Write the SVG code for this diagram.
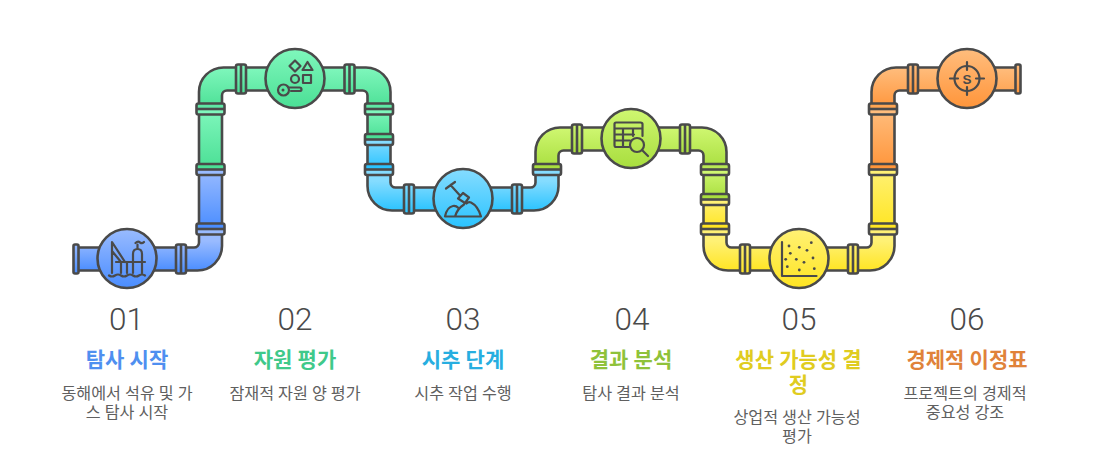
<svg xmlns="http://www.w3.org/2000/svg" width="1094" height="473" viewBox="0 0 1094 473">
<style>
.p{stroke:#4a4a4a;stroke-width:2.6;stroke-linejoin:round;stroke-linecap:round}
.f{stroke:#4a4a4a;stroke-width:2.6}
.l{fill:none;stroke:#4a4a4a;stroke-width:2.2;stroke-linecap:round;stroke-linejoin:round}
.d{fill:#4a4a4a}
.n{font:300 31.5px Roboto,"Liberation Sans",sans-serif;fill:#4a4a4a;text-anchor:middle}
.t{font:700 21px Roboto,"Noto Sans CJK KR",sans-serif;text-anchor:middle}
.b{font:400 16.2px Roboto,"Noto Sans CJK KR",sans-serif;fill:#606060;text-anchor:middle}
</style>
<defs>
<linearGradient id="bl" x2="0" y2="1"><stop offset="0" stop-color="#99bbff"/><stop offset="1" stop-color="#4a8dff"/></linearGradient>
<linearGradient id="gr" x2="0" y2="1"><stop offset="0" stop-color="#7ff7bc"/><stop offset="1" stop-color="#4bdf95"/></linearGradient>
<linearGradient id="cy" x2="0" y2="1"><stop offset="0" stop-color="#85dcff"/><stop offset="1" stop-color="#2ac3ff"/></linearGradient>
<linearGradient id="li" x2="0" y2="1"><stop offset="0" stop-color="#cff771"/><stop offset="1" stop-color="#a8de3e"/></linearGradient>
<linearGradient id="ye" x2="0" y2="1"><stop offset="0" stop-color="#fff175"/><stop offset="1" stop-color="#ffe522"/></linearGradient>
<linearGradient id="or" x2="0" y2="1"><stop offset="0" stop-color="#ffbd7d"/><stop offset="1" stop-color="#ff953a"/></linearGradient>
<linearGradient id="blE" gradientUnits="userSpaceOnUse" x1="0" y1="241" x2="0" y2="271"><stop offset="0" stop-color="#99bbff"/><stop offset="1" stop-color="#4a8dff"/></linearGradient>
<linearGradient id="cyE" gradientUnits="userSpaceOnUse" x1="0" y1="181" x2="0" y2="211"><stop offset="0" stop-color="#85dcff"/><stop offset="1" stop-color="#2ac3ff"/></linearGradient>
<linearGradient id="yeE" gradientUnits="userSpaceOnUse" x1="0" y1="241" x2="0" y2="271"><stop offset="0" stop-color="#fff175"/><stop offset="1" stop-color="#ffe522"/></linearGradient>
<linearGradient id="fBB" x2="0" y2="1"><stop offset=".5" stop-color="#4a8dff"/><stop offset=".5" stop-color="#99bbff"/></linearGradient>
<linearGradient id="fGB" x2="0" y2="1"><stop offset=".5" stop-color="#4bdf95"/><stop offset=".5" stop-color="#99bbff"/></linearGradient>
<linearGradient id="fGG" x2="0" y2="1"><stop offset=".5" stop-color="#5fe8a5"/><stop offset=".5" stop-color="#7ff7bc"/></linearGradient>
<linearGradient id="fGC" x2="0" y2="1"><stop offset=".5" stop-color="#4bdf95"/><stop offset=".5" stop-color="#85dcff"/></linearGradient>
<linearGradient id="fCC" x2="0" y2="1"><stop offset=".5" stop-color="#2ac3ff"/><stop offset=".5" stop-color="#85dcff"/></linearGradient>
<linearGradient id="fLC" x2="0" y2="1"><stop offset=".5" stop-color="#a8de3e"/><stop offset=".5" stop-color="#85dcff"/></linearGradient>
<linearGradient id="fLL" x2="0" y2="1"><stop offset=".5" stop-color="#b8e854"/><stop offset=".5" stop-color="#cff771"/></linearGradient>
<linearGradient id="fLY" x2="0" y2="1"><stop offset=".5" stop-color="#a8de3e"/><stop offset=".5" stop-color="#fff175"/></linearGradient>
<linearGradient id="fYY" x2="0" y2="1"><stop offset=".5" stop-color="#ffe522"/><stop offset=".5" stop-color="#fff175"/></linearGradient>
<linearGradient id="fOY" x2="0" y2="1"><stop offset=".5" stop-color="#ff953a"/><stop offset=".5" stop-color="#fff175"/></linearGradient>
<linearGradient id="fOO" x2="0" y2="1"><stop offset=".5" stop-color="#ffa653"/><stop offset=".5" stop-color="#ffbd7d"/></linearGradient>
<g id="vf"><rect class="f" x="-14" y="-5.500" width="28" height="11" rx="2" fill="inherit"/><line class="f" x1="-14" x2="14" y1="0" y2="0"/></g>
<g id="hf"><rect class="f" x="-5" y="-14.500" width="10" height="29" rx="2" fill="inherit"/><line class="f" x1="0" x2="0" y1="-14.500" y2="14.500"/></g>
</defs>
<g id="connectors">
<path class="p" fill="url(#blE)" d="M76,247.500H194A5,5 0 0 0 199,242.500V229H222V246A24.500,24.500 0 0 1 197.500,270.500H76Z"/>
<rect class="p" fill="url(#bl)" x="199" y="169" width="23" height="60"/>
<rect class="p" fill="url(#gr)" x="199" y="109" width="23" height="60"/>
<path class="p" fill="url(#gr)" d="M199,109V92A24.500,24.500 0 0 1 223.500,67.500H366A24.500,24.500 0 0 1 390.500,92V109H367.500V95.500A5,5 0 0 0 362.500,90.500H227A5,5 0 0 0 222,95.500V109Z"/>
<rect class="p" fill="url(#gr)" x="367.500" y="109" width="23" height="30"/>
<rect class="p" fill="url(#cy)" x="367.500" y="139" width="23" height="30"/>
<path class="p" fill="url(#cyE)" d="M367.500,169V186A24.500,24.500 0 0 0 392,210.500H534A24.500,24.500 0 0 0 558.500,186V169H535.500V182.500A5,5 0 0 1 530.500,187.500H395.500A5,5 0 0 1 390.500,182.500V169Z"/>
<path class="p" fill="url(#li)" d="M535.500,169V152A24.500,24.500 0 0 1 560,127.500H702A24.500,24.500 0 0 1 726.500,152V169H703.500V155.500A5,5 0 0 0 698.500,150.500H563.500A5,5 0 0 0 558.500,155.500V169Z"/>
<rect class="p" fill="url(#li)" x="703.500" y="169" width="23" height="30"/>
<rect class="p" fill="url(#ye)" x="703.500" y="199" width="23" height="30"/>
<path class="p" fill="url(#yeE)" d="M703.500,229V246A24.500,24.500 0 0 0 728,270.500H870A24.500,24.500 0 0 0 894.500,246V229H871.500V242.500A5,5 0 0 1 866.500,247.500H731.500A5,5 0 0 1 726.500,242.500V229Z"/>
<rect class="p" fill="url(#ye)" x="871.500" y="169" width="23" height="60"/>
<rect class="p" fill="url(#or)" x="871.500" y="109" width="23" height="60"/>
<path class="p" fill="url(#or)" d="M871.500,109V92A24.500,24.500 0 0 1 896,67.500H1018V90.500H899.500A5,5 0 0 0 894.500,95.500V109Z"/>
<use href="#vf" x="210.500" y="229" fill="url(#fBB)"/>
<use href="#vf" x="210.500" y="169.500" fill="url(#fGB)"/>
<use href="#vf" x="210.500" y="109" fill="url(#fGG)"/>
<use href="#vf" x="379" y="109" fill="url(#fGG)"/>
<use href="#vf" x="379" y="139.500" fill="url(#fGC)"/>
<use href="#vf" x="379" y="169.500" fill="url(#fCC)"/>
<use href="#vf" x="547" y="169.500" fill="url(#fLC)"/>
<use href="#vf" x="715" y="169.500" fill="url(#fLL)"/>
<use href="#vf" x="715" y="199.500" fill="url(#fLY)"/>
<use href="#vf" x="715" y="229" fill="url(#fYY)"/>
<use href="#vf" x="883" y="229" fill="url(#fYY)"/>
<use href="#vf" x="883" y="169.500" fill="url(#fOY)"/>
<use href="#vf" x="883" y="109" fill="url(#fOO)"/>
<use href="#hf" x="181" y="259" fill="url(#bl)"/>
<use href="#hf" x="241" y="79" fill="url(#gr)"/>
<use href="#hf" x="349.500" y="79" fill="url(#gr)"/>
<use href="#hf" x="409" y="199" fill="url(#cy)"/>
<use href="#hf" x="517" y="199" fill="url(#cy)"/>
<use href="#hf" x="577" y="139" fill="url(#li)"/>
<use href="#hf" x="685" y="139" fill="url(#li)"/>
<use href="#hf" x="745" y="259" fill="url(#ye)"/>
<use href="#hf" x="853" y="259" fill="url(#ye)"/>
<use href="#hf" x="913" y="79" fill="url(#or)"/>
<rect class="f" x="73.500" y="244.500" width="5" height="29" rx="1.500" fill="url(#bl)"/>
<rect class="f" x="1015.500" y="64.500" width="5" height="29" rx="1.500" fill="url(#or)"/>
</g>
<g id="node-1">
<circle class="f" cx="127" cy="258.500" r="29.500" fill="url(#bl)"/>
<path class="l" d="M112,273V242L125,262M112,251L121,262M116,262H145M121,262V273M127,262V273M133,273V254Q133,249 137.500,249Q142,249 142,254V273M137.500,249V244.500M109,275.500Q112,277.500 115,275.500Q118,273.500 121,275.500Q124,277.500 127,275.500Q130,273.500 133,275.500Q136,277.500 139,275.500Q142,273.500 145,275.500M135.500,243Q138,240.500 140,242.500Q142,244 144,242"/>
<text class="n" x="126.500" y="330">01</text>
<text class="t" fill="#4f8ff0" x="127" y="367">탐사 시작</text>
<text class="b"><tspan x="127" y="399">동해에서 석유 및 가</tspan><tspan x="127" y="418">스 탐사 시작</tspan></text>
</g>
<g id="node-2">
<circle class="f" cx="295" cy="78.500" r="29.500" fill="url(#gr)"/>
<path class="l" d="M295,60.500L300.500,66L295,71.500L289.500,66ZM307.500,62L312.500,70H302.500ZM303,75H311V83H303ZM288.500,87.500H299.500Q301.500,87.500 301.500,89.500Q301.500,91 299.500,91H291"/>
<circle class="l" cx="295" cy="79" r="4"/>
<circle class="l" cx="283.500" cy="90" r="5.500"/>
<circle class="d" cx="283" cy="90" r="1.500"/>
<text class="n" x="295" y="330">02</text>
<text class="t" fill="#3fc98a" x="295" y="367">자원 평가</text>
<text class="b" x="295" y="399">잠재적 자원 양 평가</text>
</g>
<g id="node-3">
<circle class="f" cx="463" cy="198.500" r="29.500" fill="url(#cy)"/>
<path class="l" d="M446,188.500L455,182M450.500,185L460,195.500M458,198.500L463,193L469,197.500L465,203ZM445,216.500H481Q478,206 471,202.500Q468.500,201.500 466.500,203.500M445,216.500Q447,207 453,206Q456,205.500 458.500,208M455,216.500Q457,209 464,204.500"/>
<text class="n" x="463" y="330">03</text>
<text class="t" fill="#27aee0" x="463" y="367">시추 단계</text>
<text class="b" x="463" y="399">시추 작업 수행</text>
</g>
<g id="node-4">
<circle class="f" cx="631" cy="138.500" r="29.500" fill="url(#li)"/>
<path class="l" d="M629,147H616Q614.500,147 614.500,145V124Q614.500,122.500 616,122.500H640.500Q642.500,122.500 642.500,124V136M614.500,128.500H642.500M614.500,134.500H634M614.500,140.500H630M623,128.500V147M633,128.500V136"/>
<circle class="l" cx="637" cy="145" r="7"/>
<path class="l" d="M642,150L648,156"/>
<text class="n" x="632" y="330">04</text>
<text class="t" fill="#8fc23a" x="631" y="367">결과 분석</text>
<text class="b" x="631" y="399">탐사 결과 분석</text>
</g>
<g id="node-5">
<circle class="f" cx="799" cy="258.500" r="29.500" fill="url(#ye)"/>
<path class="l" d="M782,242V276H816.500"/>
<g class="d"><circle cx="789" cy="246" r="1.400"/><circle cx="799.300" cy="247.300" r="1.400"/><circle cx="811.300" cy="242.700" r="1.400"/><circle cx="807" cy="250.300" r="1.400"/><circle cx="790.300" cy="253.300" r="1.400"/><circle cx="785.700" cy="259.300" r="1.400"/><circle cx="796.300" cy="259.300" r="1.400"/><circle cx="813" cy="258" r="1.400"/><circle cx="804" cy="262.300" r="1.400"/><circle cx="787.300" cy="266.700" r="1.400"/><circle cx="799.300" cy="270" r="1.400"/><circle cx="814.300" cy="268.700" r="1.400"/></g>
<text class="n" x="799" y="330">05</text>
<text class="t" fill="#e0cc20"><tspan x="798.500" y="367">생산 가능성 결</tspan><tspan x="798.500" y="392">정</tspan></text>
<text class="b"><tspan x="797" y="422.500">상업적 생산 가능성</tspan><tspan x="797" y="441.500">평가</tspan></text>
</g>
<g id="node-6">
<circle class="f" cx="967" cy="78.500" r="29.500" fill="url(#or)"/>
<circle class="l" cx="967" cy="78.500" r="12.500"/>
<path class="l" d="M950,78.500H958M976,78.500H984M967,62V70M967,87V95"/>
<text x="967" y="83.500" text-anchor="middle" style="font:700 13.500px 'Liberation Sans',sans-serif" fill="#4a4a4a">S</text>
<text class="n" x="967" y="330">06</text>
<text class="t" fill="#e0823a" x="967" y="367">경제적 이정표</text>
<text class="b"><tspan x="965" y="398.500">프로젝트의 경제적</tspan><tspan x="965" y="417.500">중요성 강조</tspan></text>
</g>
</svg>
